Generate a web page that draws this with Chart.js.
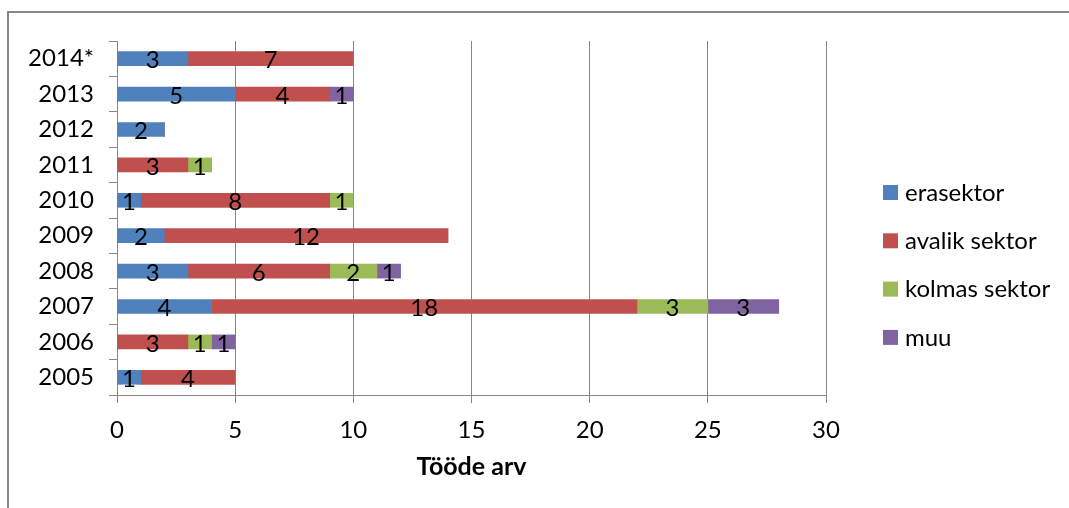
<!DOCTYPE html>
<html>
<head>
<meta charset="utf-8">
<script src="https://cdn.jsdelivr.net/npm/chart.js@4.4.1/dist/chart.umd.min.js"></script>
<style>
  html, body { margin: 0; padding: 0; background: #fff; }
  #wrap { width: 1069px; height: 508px; position: relative; }
</style>
</head>
<body>
<div id="wrap"><canvas id="chart-tood"></canvas></div>
<script>
// aastad ülevalt alla
const aastad = ['2014*', '2013', '2012', '2011', '2010', '2009', '2008', '2007', '2006', '2005'];
const erasektor = [3, 5, 2, 0, 1, 2, 3, 4, 0, 1];
const avalikSektor = [7, 4, 0, 3, 8, 12, 6, 18, 3, 4];
const kolmasSektor = [0, 0, 0, 1, 1, 0, 2, 3, 1, 0];
const muu = [0, 1, 0, 0, 0, 0, 1, 3, 1, 0];
const xTicks = [0, 5, 10, 15, 20, 25, 30];

const FONT = 'Lato, "Open Sans", sans-serif';
const joon = '#878787';

// raam ümber graafiku
const raam = {
  id: 'raam',
  beforeDraw(chart) {
    const { ctx } = chart;
    ctx.save();
    ctx.fillStyle = '#fff';
    ctx.fillRect(0, 0, chart.width, chart.height);
    ctx.strokeStyle = joon;
    ctx.lineWidth = 2;
    ctx.beginPath();
    ctx.moveTo(8, chart.height);
    ctx.lineTo(8, 12);
    ctx.lineTo(chart.width, 12);
    ctx.stroke();
    ctx.restore();
  }
};

// väärtused ribade sees
const sildid = {
  id: 'sildid',
  afterDatasetsDraw(chart) {
    const { ctx } = chart;
    ctx.save();
    ctx.font = '24px ' + FONT;
    ctx.fillStyle = '#000';
    ctx.textAlign = 'center';
    ctx.textBaseline = 'middle';
    chart.data.datasets.forEach((ds, i) => {
      const meta = chart.getDatasetMeta(i);
      meta.data.forEach((bar, j) => {
        const v = ds.data[j];
        if (!v) return;
        ctx.fillText(String(v), (bar.x + bar.base) / 2, bar.y + 2);
      });
    });
    ctx.restore();
  }
};

// legend paremal
const legend = {
  id: 'legendParemal',
  afterDraw(chart) {
    const { ctx } = chart;
    ctx.save();
    ctx.font = '24px ' + FONT;
    ctx.textBaseline = 'middle';
    ctx.textAlign = 'left';
    chart.data.datasets.forEach((ds, i) => {
      const y = 192 + i * 48.3;
      ctx.fillStyle = ds.backgroundColor;
      ctx.fillRect(883, y - 7, 15, 15);
      ctx.fillStyle = '#000';
      ctx.fillText(ds.label, 905, y + 1);
    });
    ctx.restore();
  }
};

new Chart(document.getElementById('chart-tood'), {
  type: 'bar',
  data: {
    labels: aastad,
    datasets: [
      { label: 'erasektor', data: erasektor, backgroundColor: '#4F81BD' },
      { label: 'avalik sektor', data: avalikSektor, backgroundColor: '#C0504D' },
      { label: 'kolmas sektor', data: kolmasSektor, backgroundColor: '#9BBB59' },
      { label: 'muu', data: muu, backgroundColor: '#8064A2' }
    ]
  },
  options: {
    indexAxis: 'y',
    responsive: true,
    maintainAspectRatio: false,
    animation: false,
    devicePixelRatio: 1,
    barThickness: 14,
    layout: { padding: { left: 0, top: 41, right: 243, bottom: 22 } },
    plugins: { legend: { display: false }, tooltip: { enabled: false } },
    scales: {
      x: {
        stacked: true,
        min: 0,
        max: 30,
        afterBuildTicks(scale) { scale.ticks = xTicks.map((v) => ({ value: v })); },
        afterFit(scale) { scale.height = 508 - 22 - 395; },
        grid: { color: joon, lineWidth: 1, tickLength: 8, drawTicks: true },
        border: { color: joon, width: 1 },
        ticks: { color: '#000', font: { family: FONT, size: 24 }, padding: 13 },
        title: {
          display: true,
          text: 'Tööde arv',
          color: '#000',
          font: { family: FONT, size: 25, weight: 'bold' },
          padding: { top: 4, bottom: 4 }
        }
      },
      y: {
        stacked: true,
        afterFit(scale) { scale.width = 117; },
        grid: { drawOnChartArea: false, drawTicks: true, tickLength: 8, color: joon, offset: true },
        border: { color: joon, width: 1 },
        ticks: { color: '#000', font: { family: FONT, size: 24 }, padding: 15 }
      }
    }
  },
  plugins: [raam, sildid, legend]
});
</script>
</body>
</html>
